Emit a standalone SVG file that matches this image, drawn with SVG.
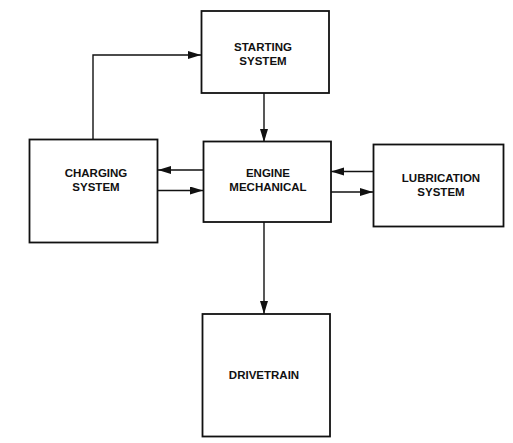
<svg xmlns="http://www.w3.org/2000/svg" width="513" height="443" viewBox="0 0 513 443">
  <defs>
    <marker id="arr" markerUnits="userSpaceOnUse" markerWidth="14" markerHeight="9" refX="13" refY="4" orient="auto">
      <path d="M0,0 L13,4 L0,8 z" fill="#111"/>
    </marker>
    <style>
      .box { fill: #fff; stroke: #111; stroke-width: 1.8; }
      .lbl { font-family: "Liberation Sans", Arial, Helvetica, sans-serif; font-weight: bold; font-size: 11.5px; fill: #111; text-anchor: middle; }
      .conn { fill: none; stroke: #111; stroke-width: 1.4; marker-end: url(#arr); }
    </style>
  </defs>
  <rect width="513" height="443" fill="#fff"/>
  <g id="connectors">
    <path class="conn" d="M93,140 V55 H201"/>
    <path class="conn" d="M264,93 V142"/>
    <path class="conn" d="M203,170 H158"/>
    <path class="conn" d="M158,190.5 H203"/>
    <path class="conn" d="M373,171.5 H331"/>
    <path class="conn" d="M331,192 H373"/>
    <path class="conn" d="M264,222 V314"/>
  </g>
  <g id="starting-system">
    <rect class="box" x="201.5" y="11" width="127.5" height="82"/>
    <text class="lbl" x="263" y="51">STARTING</text>
    <text class="lbl" x="263" y="65">SYSTEM</text>
  </g>
  <g id="engine-mechanical">
    <rect class="box" x="203.5" y="141.5" width="127.5" height="80.5"/>
    <text class="lbl" x="268" y="177">ENGINE</text>
    <text class="lbl" x="268" y="191">MECHANICAL</text>
  </g>
  <g id="charging-system">
    <rect class="box" x="29.5" y="139.5" width="128" height="103"/>
    <text class="lbl" x="96" y="177">CHARGING</text>
    <text class="lbl" x="96" y="191">SYSTEM</text>
  </g>
  <g id="lubrication-system">
    <rect class="box" x="373.5" y="144.5" width="130" height="82"/>
    <text class="lbl" x="441" y="182">LUBRICATION</text>
    <text class="lbl" x="441" y="196">SYSTEM</text>
  </g>
  <g id="drivetrain">
    <rect class="box" x="202.5" y="314" width="127.5" height="122.5"/>
    <text class="lbl" x="264" y="379">DRIVETRAIN</text>
  </g>
</svg>
